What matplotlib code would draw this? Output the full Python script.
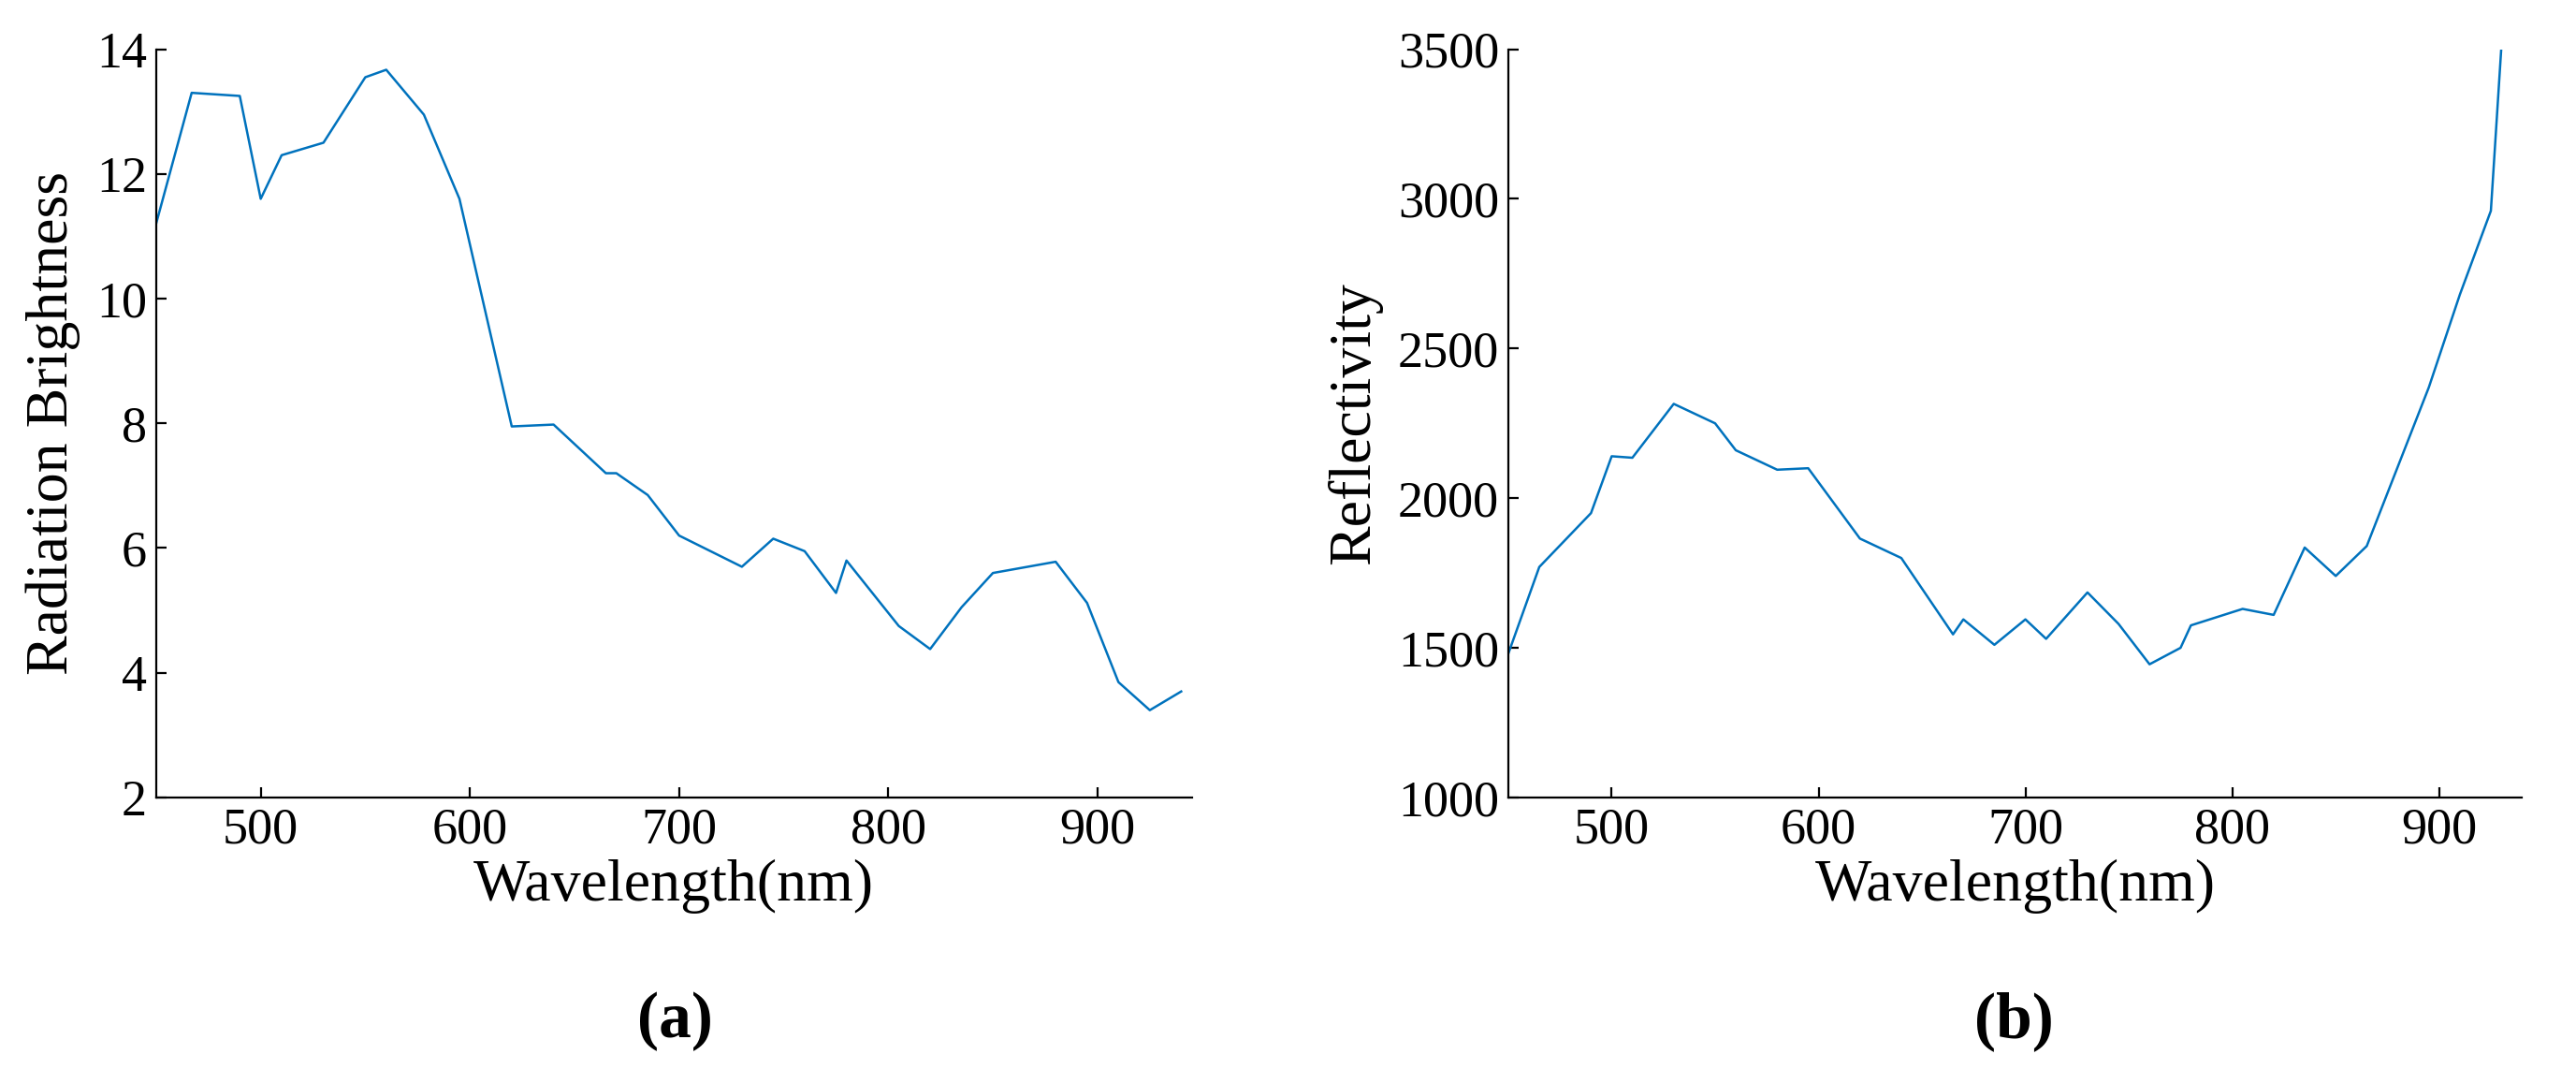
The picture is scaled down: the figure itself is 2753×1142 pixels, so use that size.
import matplotlib.pyplot as plt

plt.rcParams['font.family'] = ['Liberation Serif', 'DejaVu Serif']

# panel (a): radiation brightness
wl_a = [450, 467, 490, 500, 510, 530, 550, 560, 578, 595, 620, 640, 665, 670, 685,
        700, 730, 745, 760, 775, 780, 805, 820, 835, 850, 880, 895, 910, 925, 940]
rad = [11.2, 13.3, 13.25, 11.6, 12.3, 12.5, 13.55, 13.67, 12.95, 11.6, 7.95, 7.98,
       7.2, 7.2, 6.85, 6.2, 5.7, 6.15, 5.95, 5.28, 5.8, 4.75, 4.38, 5.05, 5.6, 5.78,
       5.12, 3.85, 3.4, 3.7]

# panel (b): reflectivity
wl_b = [450, 465, 490, 500, 510, 530, 550, 560, 580, 595, 620, 640, 665, 670, 685,
        700, 710, 730, 745, 760, 775, 780, 805, 820, 835, 850, 865, 895, 910, 925, 930]
refl = [1480, 1770, 1950, 2140, 2135, 2315, 2250, 2160, 2095, 2100, 1865, 1800, 1545,
        1595, 1510, 1595, 1530, 1685, 1580, 1445, 1500, 1575, 1630, 1610, 1835, 1740,
        1840, 2370, 2680, 2960, 3500]

fig = plt.figure(figsize=(13.765, 5.71), dpi=200)
ax1 = fig.add_axes([0.0606, 0.254, 0.402, 0.70])
ax2 = fig.add_axes([0.5855, 0.254, 0.3935, 0.70])

for ax, x, y in [(ax1, wl_a, rad), (ax2, wl_b, refl)]:
    ax.plot(x, y, color='#0072BD', lw=0.9)
    ax.spines['top'].set_visible(False)
    ax.spines['right'].set_visible(False)
    ax.tick_params(direction='in', labelsize=19.5, length=4)
    ax.set_xticks([500, 600, 700, 800, 900])
    ax.set_xlabel('Wavelength(nm)', fontsize=23, labelpad=2)

ax1.set_xlim(450, 945)
ax1.set_ylim(2, 14)
ax1.set_yticks(range(2, 15, 2))
ax1.set_ylabel('Radiation Brightness', fontsize=23, labelpad=6)

ax2.set_xlim(450, 940)
ax2.set_ylim(1000, 3500)
ax2.set_yticks(range(1000, 3501, 500))
ax2.set_ylabel('Reflectivity', fontsize=23, labelpad=6)

fig.text(0.262, 0.03, '(a)', ha='center', fontsize=25, fontweight='bold')
fig.text(0.782, 0.03, '(b)', ha='center', fontsize=25, fontweight='bold')

fig.savefig('out.png', dpi=200)
